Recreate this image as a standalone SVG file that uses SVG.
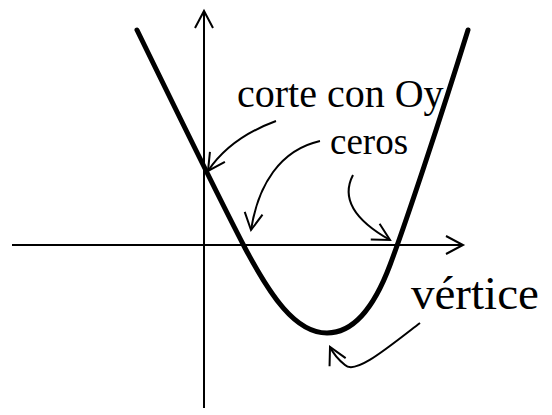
<svg xmlns="http://www.w3.org/2000/svg" width="552" height="415" viewBox="0 0 552 415">
<style>
.ax{fill:none;stroke:#000;stroke-width:2}
.cv{fill:none;stroke:#000;stroke-width:5;stroke-linecap:round}
.ar{fill:none;stroke:#000;stroke-width:2}
.lb{font-family:"Liberation Serif","Times New Roman",serif;font-size:40px;fill:#000}
</style>
<defs>
<marker id="ah" markerUnits="userSpaceOnUse" viewBox="0 0 24 22" markerWidth="24" markerHeight="22" refX="20" refY="11" orient="auto" overflow="visible">
<path d="M3,2 L20,11 L3,20" fill="none" stroke="#000" stroke-width="2"/>
</marker>
</defs>
<g id="axes">
<path id="x-axis" class="ax" d="M12,245 L463,245" marker-end="url(#ah)"/>
<path id="y-axis" class="ax" d="M204,408 L204,11" marker-end="url(#ah)"/>
</g>
<g id="parabola">
<path class="cv" d="M137,30 C175,108 215,190 245,248 C270,295 295,333 327,333 C355,333 375,305 390,265 C405,225 440,120 468,30"/>
</g>
<g id="connectors">
<path class="ar" d="M276,121 Q230,138 208,171" marker-end="url(#ah)"/>
<path class="ar" d="M320,141 C280,150 258,185 251,230" marker-end="url(#ah)"/>
<path class="ar" d="M353,175 C340,200 358,222 390,240" marker-end="url(#ah)"/>
<path class="ar" d="M420,323 C385,350 355,375 345,365 Q335,357 330,347" marker-end="url(#ah)"/>
</g>
<g id="label-corte"><text class="lb" x="237" y="107">corte con Oy</text></g>
<g id="label-ceros"><text class="lb" x="330" y="154" style="font-size:37px">ceros</text></g>
<g id="label-vertice"><text class="lb" x="411" y="309" style="font-size:47px">vértice</text></g>
</svg>
